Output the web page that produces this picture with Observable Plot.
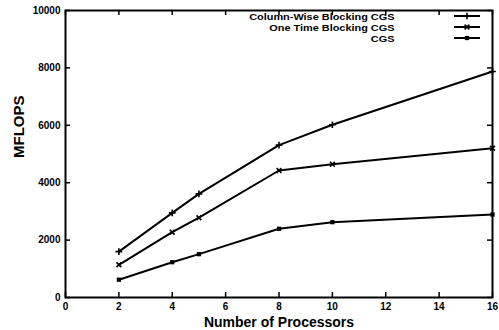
<!DOCTYPE html>
<html>
<head>
<meta charset="utf-8">
<script src="https://cdn.jsdelivr.net/npm/d3@7"></script>
<script src="https://cdn.jsdelivr.net/npm/@observablehq/plot@0.6"></script>
<style>
  html, body { margin: 0; padding: 0; background: #fff; }
  #chart { position: relative; width: 499px; height: 330px; }
  svg { font-family: "Liberation Sans", Arial, sans-serif; }
</style>
</head>
<body>
<div id="chart"></div>
<script>
const processors = [2, 4, 5, 8, 10, 16];
const columnWise = [1600, 2950, 3610, 5310, 6020, 7875];
const oneTime = [1140, 2275, 2780, 4425, 4645, 5200];
const cgs = [620, 1230, 1510, 2395, 2625, 2890];
const seriesNames = ["Column-Wise Blocking CGS", "One Time Blocking CGS", "CGS"];
const seriesSymbols = ["plus", "times", "square"];
const xTicks = [0, 2, 4, 6, 8, 10, 12, 14, 16];
const yTicks = [0, 2000, 4000, 6000, 8000, 10000];

const seriesValues = [columnWise, oneTime, cgs];
const rows = seriesNames.flatMap((name, s) =>
  processors.map((p, i) => ({series: name, p, v: seriesValues[s][i], sym: seriesSymbols[s]})));

const W = 499, H = 330, mL = 65, mR = 7, mT = 10, mB = 33;
const pw = W - mL - mR, ph = H - mT - mB;
const tickLen = 5;

const plot = Plot.plot({
  width: W, height: H,
  marginLeft: mL, marginRight: mR, marginTop: mT, marginBottom: mB,
  style: {fontFamily: '"Liberation Sans", Arial, sans-serif', fontWeight: "bold", background: "#fff"},
  x: {domain: [0, 16], ticks: xTicks},
  y: {domain: [0, 10000], ticks: yTicks},
  symbol: {domain: seriesNames, range: seriesSymbols},
  marks: [
    Plot.axisX(xTicks, {tickSize: 0, tickPadding: 5, fontSize: 10, fontWeight: "bold", label: null, tickFormat: d3.format("d")}),
    Plot.axisY(yTicks, {tickSize: 0, tickPadding: 5, fontSize: 10, fontWeight: "bold", label: null, tickFormat: d3.format("d")}),
    // inward ticks: bottom, top, left, right
    Plot.tickX(xTicks, {x: d => d, insetTop: ph - tickLen, stroke: "black", strokeWidth: 1.5}),
    Plot.tickX(xTicks, {x: d => d, insetBottom: ph - tickLen, stroke: "black", strokeWidth: 1.5}),
    Plot.tickY(yTicks, {y: d => d, insetRight: pw - tickLen, stroke: "black", strokeWidth: 1.5}),
    Plot.tickY(yTicks, {y: d => d, insetLeft: pw - tickLen, stroke: "black", strokeWidth: 1.5}),
    Plot.line(rows, {x: "p", y: "v", z: "series", stroke: "black", strokeWidth: 2}),
    Plot.dot(rows.filter(d => d.sym !== "square"), {x: "p", y: "v", symbol: "series", stroke: "black", strokeWidth: 1.6, r: 2.3}),
    Plot.dot(rows.filter(d => d.sym === "square"), {x: "p", y: "v", symbol: "series", fill: "black", r: 2.4}),
    Plot.frame({stroke: "black", strokeWidth: 2}),
    Plot.text(["Number of Processors"], {frameAnchor: "bottom", dy: 20, fontSize: 14, fontWeight: "bold", lineAnchor: "top", text: d => d}),
    Plot.text(["MFLOPS"], {frameAnchor: "left", dx: -46, dy: 4, rotate: -90, fontSize: 15, fontWeight: "bold", text: d => d}),
    Plot.text(seriesNames, {frameAnchor: "top-right", dx: -49, textAnchor: "end", fontSize: 9.5, fontWeight: "bold", text: d => d})
  ]
});

document.getElementById("chart").appendChild(plot);

// Legend rows and sample lines
const svg = d3.select(plot);
const legendRowY = [16, 27, 38];
svg.selectAll("text").filter(function() { return seriesNames.includes(this.textContent); })
  .each(function() {
    const i = seriesNames.indexOf(this.textContent);
    d3.select(this).attr("transform", `translate(${W - mR - 49},${legendRowY[i]}) scale(1.15,1)`).attr("dy", "0.32em").attr("x", null).attr("y", null);
  });
const lg = svg.append("g");
const sx0 = 454, sx1 = 480;
seriesNames.forEach((name, i) => {
  const y = legendRowY[i];
  lg.append("line").attr("x1", sx0).attr("x2", sx1).attr("y1", y).attr("y2", y).attr("stroke", "black").attr("stroke-width", 2);
  const t = seriesSymbols[i];
  const sym = d3.symbol(t === "plus" ? d3.symbolPlus : t === "times" ? d3.symbolTimes : d3.symbolSquare, t === "square" ? 18 : 16)();
  lg.append("path").attr("d", sym).attr("transform", `translate(${(sx0 + sx1) / 2},${y})`)
    .attr("fill", t === "square" ? "black" : "none").attr("stroke", "black").attr("stroke-width", t === "square" ? 0 : 1.6);
});
</script>
</body>
</html>
